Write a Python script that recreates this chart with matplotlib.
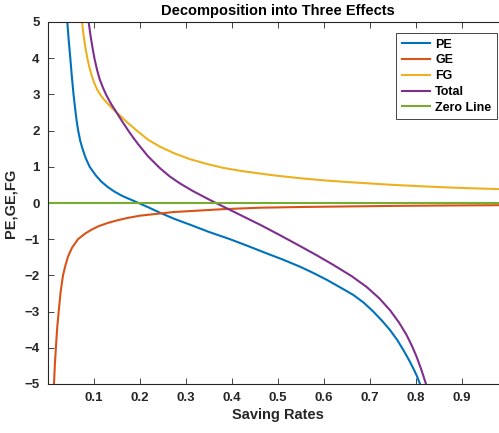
import matplotlib.pyplot as plt
import numpy as np

plt.rcParams['font.family'] = ['Liberation Sans', 'DejaVu Sans']
plt.rcParams['font.weight'] = 'bold'

# values
s_pe = [0.042, 0.045, 0.0485, 0.0518, 0.0555, 0.060, 0.0625, 0.0656, 0.070,
        0.0755, 0.082, 0.0906, 0.104, 0.116, 0.13, 0.145, 0.16, 0.174, 0.197,
        0.22, 0.2435, 0.275, 0.309, 0.35, 0.3957, 0.435, 0.475, 0.51, 0.548,
        0.578, 0.6058, 0.635, 0.6638, 0.687, 0.7072, 0.726, 0.7435, 0.759,
        0.7725, 0.784, 0.7942, 0.802, 0.8087]
pe = [5.0, 4.5, 4.0, 3.5, 3.0, 2.5, 2.25, 2.0, 1.72,
      1.48, 1.24, 1.0, 0.76, 0.59, 0.44, 0.31, 0.205, 0.125, 0.0,
      -0.13, -0.27, -0.44, -0.60, -0.80, -1.0, -1.19, -1.39, -1.56, -1.76,
      -1.94, -2.12, -2.33, -2.54, -2.76, -3.0, -3.25, -3.51, -3.78,
      -4.06, -4.32, -4.57, -4.78, -5.0]

s_ge = [0.013, 0.015, 0.0174, 0.020, 0.0232, 0.0275, 0.0326, 0.038, 0.0435,
        0.052, 0.0652, 0.080, 0.0942, 0.11, 0.1304, 0.150, 0.174, 0.2,
        0.2725, 0.3812, 0.4609, 0.55, 0.65, 0.75, 0.85, 0.99]
ge = [-5.0, -4.45, -3.95, -3.45, -3.0, -2.45, -2.0, -1.72, -1.48,
      -1.24, -1.0, -0.85, -0.74, -0.64, -0.55, -0.48, -0.41, -0.35,
      -0.25, -0.17, -0.13, -0.11, -0.095, -0.08, -0.07, -0.06]

s_fg = [0.0739, 0.0775, 0.0812, 0.0855, 0.090, 0.0942, 0.10, 0.107, 0.116,
        0.125, 0.1365, 0.1486, 0.1703, 0.192, 0.2174, 0.2435, 0.275, 0.3087,
        0.345, 0.3812, 0.42, 0.46, 0.50, 0.548, 0.60, 0.65, 0.70, 0.75,
        0.80, 0.85, 0.90, 0.99]
fg = [5.0, 4.62, 4.3, 4.0, 3.75, 3.55, 3.33, 3.13, 2.95,
      2.81, 2.655, 2.51, 2.25, 2.01, 1.75, 1.555, 1.37, 1.21,
      1.08, 0.97, 0.885, 0.815, 0.75, 0.685, 0.625, 0.58, 0.54, 0.50,
      0.47, 0.44, 0.415, 0.38]

s_tot = [0.0884, 0.0925, 0.097, 0.1014, 0.107, 0.1123, 0.12, 0.1268, 0.1375,
         0.1486, 0.161, 0.174, 0.185, 0.1957, 0.2174, 0.2435, 0.265, 0.287,
         0.315, 0.3449, 0.3667, 0.41, 0.4609, 0.5, 0.548, 0.585, 0.6203,
         0.66, 0.6928, 0.72, 0.7435, 0.763, 0.7797, 0.792, 0.8014, 0.812,
         0.8217]
total = [5.0, 4.62, 4.27, 3.97, 3.66, 3.42, 3.17, 2.98, 2.73,
         2.51, 2.26, 2.01, 1.81, 1.63, 1.29, 0.96, 0.73, 0.54,
         0.33, 0.13, -0.01, -0.28, -0.60, -0.86, -1.19, -1.45, -1.71,
         -2.02, -2.32, -2.63, -2.96, -3.30, -3.65, -3.97, -4.25, -4.62,
         -5.0]

s_zero = [0.0, 1.0]
zero = [0.0, 0.0]

fig = plt.figure(figsize=(4.99, 4.33), dpi=100)
# the axes box runs past the right edge of the picture, as in the reference
ax = fig.add_axes([48 / 499, 49 / 433, 460 / 499, 362 / 433])

ax.plot(s_pe, pe, color='#0072BD', lw=1.5, label='PE')
ax.plot(s_ge, ge, color='#D95319', lw=1.5, label='GE')
ax.plot(s_fg, fg, color='#EDB120', lw=1.5, label='FG')
ax.plot(s_tot, total, color='#7E2F8E', lw=1.5, label='Total')
ax.plot(s_zero, zero, color='#77AC30', lw=1.5, label='Zero Line')

ax.set_xlim(0, 1)
ax.set_ylim(-5, 5)
ax.set_xticks(np.arange(0.1, 0.95, 0.1))
ax.set_xticklabels(['0.1', '0.2', '0.3', '0.4', '0.5', '0.6', '0.7', '0.8', '0.9'])
ax.set_yticks(range(-5, 6))
ax.tick_params(direction='in', length=4, width=0.6, labelsize=9.5,
               top=True, colors='#262626', pad=6)
for side in ['left', 'bottom', 'top']:
    ax.spines[side].set_color('#262626')
    ax.spines[side].set_linewidth(0.8)
ax.spines['right'].set_visible(False)

ax.set_xlabel('Saving Rates', fontsize=10.5, fontweight='bold', color='#262626', labelpad=3)
ax.set_ylabel('PE,GE,FG', fontsize=10.5, fontweight='bold', color='#262626', labelpad=5)
ax.set_title('Decomposition into Three Effects', fontsize=10.5, fontweight='bold', pad=5)

leg = ax.legend(loc='upper right', bbox_to_anchor=(449 / 460, 0.9696), borderaxespad=0,
                fontsize=9, fancybox=False, framealpha=1, edgecolor='#262626',
                handlelength=2.3, handletextpad=0.4, labelspacing=0.3,
                borderpad=0.45)
leg.get_frame().set_linewidth(0.6)

fig.savefig('out.png', dpi=100)
